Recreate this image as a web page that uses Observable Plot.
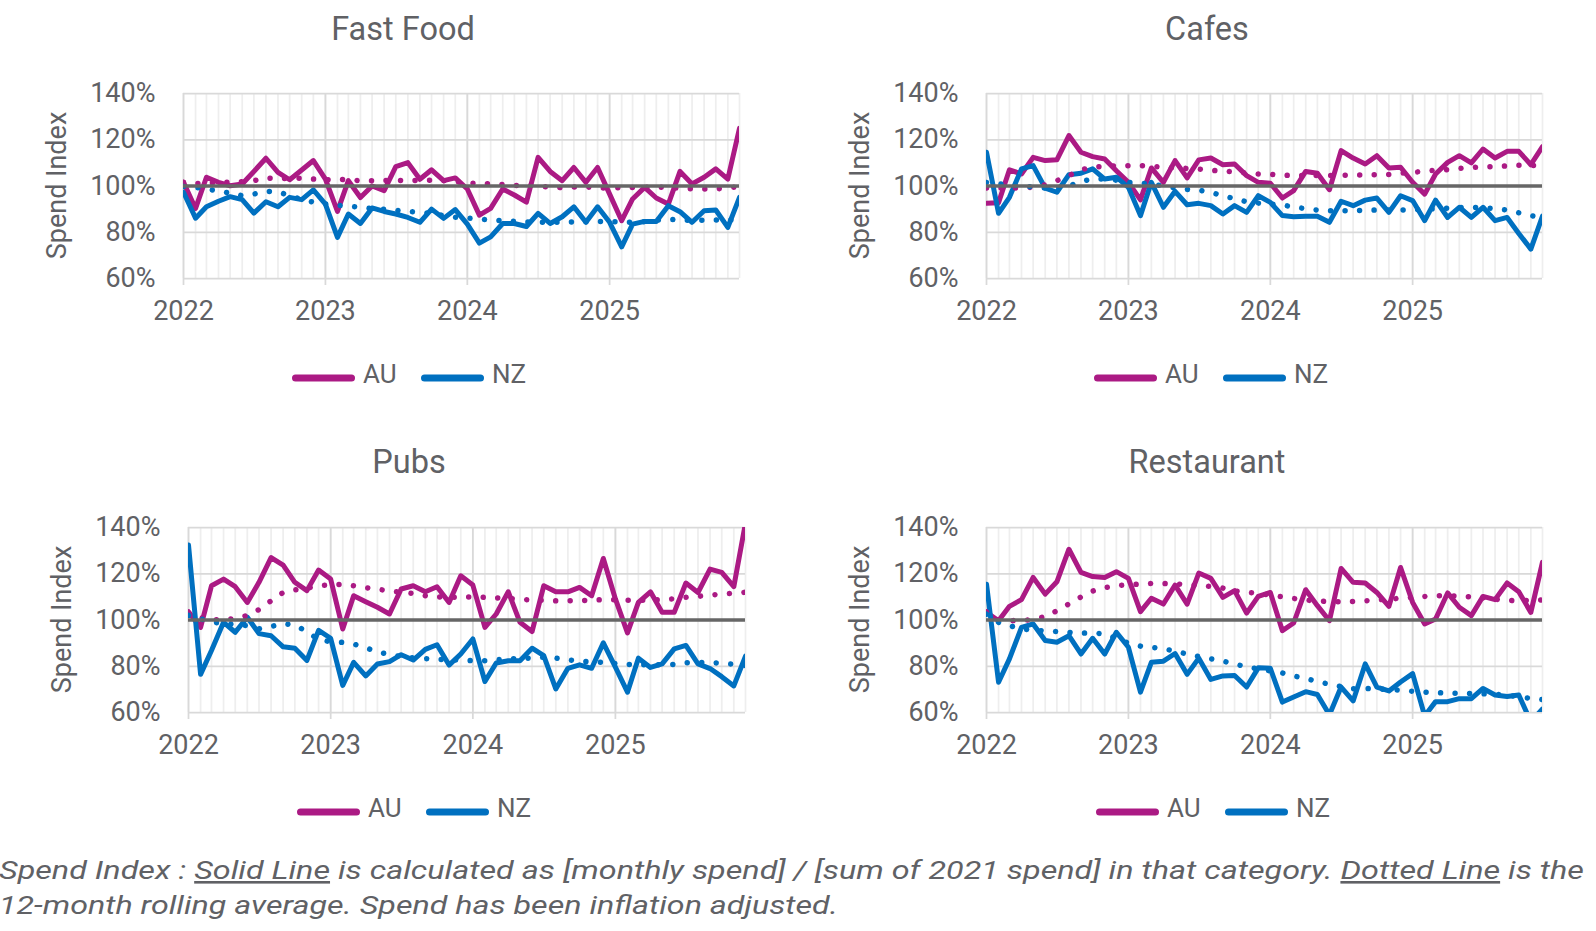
<!DOCTYPE html>
<html>
<head>
<meta charset="utf-8">
<script src="https://cdn.jsdelivr.net/npm/d3@7"></script>
<script src="https://cdn.jsdelivr.net/npm/@observablehq/plot@0.6"></script>
<style>
html, body { margin: 0; padding: 0; background: #ffffff; }
#chart { position: relative; width: 1596px; height: 931px; overflow: hidden; background: #ffffff; }
#chart .panel { position: absolute; }
</style>
</head>
<body>
<div id="chart"></div>
<script>
// ---------- data (monthly, Jan 2022 – Dec 2025) ----------
const seriesNames = ["AU", "NZ"];
const yearTicks = [2022, 2023, 2024, 2025];
const yTicks = [60, 80, 100, 120, 140];

const fastFoodAU = [101.6, 90.3, 103.8, 101.6, 100.1, 100.9, 106.3, 112, 105.9, 102.7, 106.9, 111,
  103, 89, 102.3, 95, 100, 98, 108.4, 110.1, 102.9, 107, 102.3, 103.5,
  98.7, 87.4, 90.3, 98.7, 96.1, 93, 112.4, 106.3, 102.3, 108, 101.6, 108,
  96.5, 85, 94.4, 99.4, 94.8, 92.2, 106.3, 100.9, 103.8, 107.4, 103, 125];
const fastFoodNZ = [97.3, 86.1, 91, 93.4, 95.4, 94.1, 88.3, 93.2, 91, 95.1, 94.1, 98.3,
  92.2, 77.8, 87.9, 83.8, 90.5, 89, 87.9, 86.4, 84.3, 90, 86, 89.8,
  83.5, 75.3, 78, 83.8, 83.8, 82.5, 88.2, 83.8, 86.7, 91, 84.3, 91,
  84.3, 73.7, 83.5, 84.7, 84.6, 91.5, 88.9, 84.3, 89.3, 89.6, 82.1, 95.1];
const fastFoodAUAvg = [101.6, 101, 101.2, 101.5, 101.6, 101.8, 102.3, 103.5, 103.2, 103.3, 103.3, 103,
  102.7, 102.9, 102.7, 102.3, 102.3, 102.4, 102.5, 102.3, 102.4, 102.5, 102.3, 101.8,
  101.4, 101, 100.9, 100.6, 100.2, 100.3, 100, 99.5, 99.3, 99.6, 99.6, 99.2,
  99.1, 99.3, 99.4, 99.4, 99.6, 99.3, 99, 98.8, 98.7, 98.7, 99.2, 99.7];
const fastFoodNZAvg = [99.8, 99.4, 98.7, 97.8, 96.9, 95.8, 96.5, 97.7, 97.5, 95.8, 94.2, 93,
  92.2, 91.6, 91.3, 90.8, 90.2, 89.9, 89.5, 89, 88.6, 88.2, 87.2, 86.5,
  86.1, 85.7, 85.3, 85, 84.7, 84.4, 84.3, 84.3, 84.3, 84.5, 84.6, 84.7,
  84.6, 84.5, 84.3, 84.6, 85.3, 85.6, 85.3, 85.2, 85.2, 85.3, 85.3, 85.3];

const cafesAU = [92.5, 92.8, 107, 105.2, 112.4, 111, 111.3, 121.8, 114.6, 112.7, 111.7, 106.6,
  101.6, 94, 107.8, 101.6, 111, 103.5, 111.3, 112.1, 109.2, 109.5, 104.5, 101.6,
  101.2, 94.8, 98, 106.3, 105.5, 98.4, 115.3, 112.1, 109.5, 113.1, 107.8, 108.1,
  101.6, 96.5, 105.2, 110.2, 113.1, 110, 116, 112.1, 115, 115, 109.2, 117];
const cafesNZ = [114.6, 88.2, 95.1, 107.4, 108.8, 99.1, 97.3, 104.9, 105.5, 107.4, 103, 103.8,
  99.4, 87.2, 101.6, 90.8, 97.7, 91.9, 92.5, 91.5, 87.9, 91.5, 88.6, 95.8,
  92.9, 87.2, 86.7, 86.9, 86.9, 84.3, 93.4, 91.5, 93.9, 94.8, 88.6, 95.8,
  93.7, 85, 93.9, 86.4, 90.8, 86.4, 90.8, 85, 86.4, 79.5, 72.7, 87];
const cafesAUAvg = [99.1, 99.1, 99.1, 99.1, 99.5, 100.5, 102.3, 104.5, 107, 108.2, 108.5, 108.7,
  108.8, 108.8, 108.6, 108.1, 107.8, 107.6, 107.3, 106.8, 106.5, 106.1, 105.6, 105.2,
  105, 104.7, 104.5, 104.5, 104.5, 104.5, 104.6, 104.8, 104.8, 104.9, 105, 105.5,
  105.9, 106.4, 106.8, 107.1, 107.6, 108, 108.3, 108.4, 108.7, 109, 108.9, 108.9];
const cafesNZAvg = [101.5, 101, 100.5, 100, 99.5, 99.1, 99.2, 100, 102, 103, 103, 102.5,
  101.6, 101.3, 100.8, 100, 99.2, 98.5, 98.2, 97.2, 95.8, 94.5, 93.2, 92.6,
  92.2, 91.8, 90.9, 90.2, 89.6, 89.3, 89.3, 89.3, 89.5, 89.6, 89.6, 89.6,
  89.8, 90, 90.2, 90.4, 90.7, 90.8, 90.6, 90.2, 89.6, 88.4, 87.2, 86.2];

const pubsAU = [103.6, 96.8, 114.8, 117.7, 114.4, 107.6, 116.3, 127, 123.7, 116.3, 112.7, 121.6,
  117.7, 96.1, 110.5, 107.9, 105.5, 102.6, 113.4, 114.8, 112.2, 114.4, 107.6, 119.1,
  115.1, 96.8, 102.6, 112.2, 99, 95, 114.8, 112.2, 112.2, 114.1, 110.5, 126.6,
  109.1, 94.4, 107.6, 112.2, 103.3, 103.3, 116, 111.9, 122, 120.6, 114.4, 142];
const pubsNZ = [132.4, 76.5, 86.8, 99, 94.7, 101.2, 94.1, 93.2, 88.4, 87.8, 82.5, 95.5,
  92.1, 71.7, 81.7, 75.8, 81, 82, 85, 82.7, 87.3, 89.3, 80.5, 85.3,
  91.8, 73.4, 81.4, 82.4, 82.4, 87.8, 84.6, 70.2, 79.1, 80.6, 79.1, 90.1,
  79.6, 68.8, 83.5, 79.5, 81, 87.5, 89, 81, 79, 75.5, 71.5, 84.4];
const pubsAUAvg = [103, 101, 100, 100.2, 100.5, 102, 104.5, 108.3, 111.9, 113, 113.8, 114.8,
  115.3, 115.4, 114.8, 114, 113.3, 112.6, 112, 111.5, 110.5, 110, 109.8, 110,
  110, 109.8, 109.6, 109.3, 109, 108.6, 108.5, 108.3, 108.3, 108.4, 108.6, 108.8,
  108.8, 108.5, 108.5, 108.6, 108.8, 109.2, 109.8, 110.2, 110.8, 111.2, 111.6, 112];
const pubsNZAvg = [102, 100.5, 99, 98.6, 98, 97.5, 96.2, 97.2, 98.4, 97.8, 95, 91.5,
  90.6, 90.3, 89.6, 88, 86.3, 85, 84.2, 83.6, 83.3, 83, 82.9, 82.6,
  82.4, 82.4, 82.8, 83.2, 83.3, 83.6, 83.9, 83.5, 82.8, 82.2, 81.9, 81.7,
  81.2, 80.8, 80.6, 80.6, 80.6, 80.8, 81.5, 81.7, 81.6, 81.3, 80.8, 80.3];

const restaurantAU = [103.3, 99.7, 105.9, 108.8, 118.4, 111.2, 116.5, 130.6, 120.6, 118.8, 118.4, 120.9,
  118, 103.6, 109.4, 106.9, 115.1, 106.9, 120.3, 118, 109.8, 112.7, 103, 110.2,
  111.9, 95.4, 98.7, 113.1, 106.2, 99.7, 122.3, 116.3, 116, 111.9, 105.9, 122.7,
  107.6, 98.3, 100.4, 111.7, 105.5, 101.9, 110.2, 108.8, 116, 112.2, 103.3, 125];
const restaurantNZ = [115.5, 73.1, 83.2, 96.8, 98.3, 91.1, 90.4, 93.2, 85.3, 92.1, 85.3, 94.7,
  88.2, 68.8, 81.7, 82.2, 85.5, 76.5, 83.5, 74.3, 75.8, 76, 71, 79.3,
  79.1, 64.5, 66.7, 69, 67.8, 59, 71, 65, 81, 71, 69.3, 73.2,
  76.8, 58.5, 64.7, 64.7, 66, 66, 70.4, 67.6, 66.9, 67.6, 56, 61.5];
const restaurantAUAvg = [103.5, 100, 99.7, 99.8, 100.2, 101.5, 104, 107, 110, 112.5, 114, 114.8,
  115.3, 115.5, 115.8, 115.8, 115.6, 115.3, 115, 114.5, 113.8, 112.6, 112, 111.5,
  110.8, 110, 109.3, 108.6, 108.2, 108, 107.9, 108, 108.3, 108.7, 109, 109.4,
  109.8, 110.2, 110.5, 110.5, 110.3, 110, 109.5, 109, 108.5, 108.3, 108.5, 108.7];
const restaurantNZAvg = [102.5, 99, 97.5, 96.2, 95.6, 95.3, 95, 94.6, 94.3, 94.4, 94, 92,
  90, 88.7, 88.2, 87.6, 86.5, 85.3, 84.2, 83.2, 82.2, 81, 79.7, 78.8,
  78, 77.1, 75.8, 74.7, 73.4, 72.2, 71.2, 70.3, 70.4, 70.2, 70, 69.6,
  69.2, 68.8, 68.6, 68.4, 68.3, 68.2, 68.1, 67.9, 67.5, 66.8, 66.1, 65.6];

const captionLine1 = [
  {text: "Spend Index : ", underline: false},
  {text: "Solid Line", underline: true},
  {text: " is calculated as [monthly spend] / [sum of 2021 spend] in that category. ", underline: false},
  {text: "Dotted Line", underline: true},
  {text: " is the", underline: false}
];
const captionLine2 = "12-month rolling average. Spend has been inflation adjusted.";

// ---------- style / layout ----------
const FONT = "Roboto, 'Noto Sans', 'DejaVu Sans', sans-serif";
const TEXT = "#606165";
const COLORS = {AU: "#AB1A84", NZ: "#0070C0"};

const panels = [
  {title: "Fast Food", data: [fastFoodAU, fastFoodNZ], avg: [fastFoodAUAvg, fastFoodNZAvg],
   x1: 183, x2: 739, y1: 93, y2: 278, titleX: 403, titleY: 40, legendX: 292, legendY: 378},
  {title: "Cafes", data: [cafesAU, cafesNZ], avg: [cafesAUAvg, cafesNZAvg],
   x1: 986, x2: 1542, y1: 93, y2: 278, titleX: 1207, titleY: 40, legendX: 1094, legendY: 378},
  {title: "Pubs", data: [pubsAU, pubsNZ], avg: [pubsAUAvg, pubsNZAvg],
   x1: 188, x2: 745, y1: 527, y2: 712, titleX: 409, titleY: 473, legendX: 297, legendY: 812},
  {title: "Restaurant", data: [restaurantAU, restaurantNZ], avg: [restaurantAUAvg, restaurantNZAvg],
   x1: 986, x2: 1542, y1: 527, y2: 712, titleX: 1207, titleY: 473, legendX: 1096, legendY: 812}
];

const months = d3.utcMonth.range(new Date(Date.UTC(2022, 0, 1)), new Date(Date.UTC(2026, 0, 1)));
const yearDates = yearTicks.map(y => new Date(Date.UTC(y, 0, 1)));
const toRows = values => values.map((v, i) => ({date: months[i], value: v}));

const chart = document.getElementById("chart");

for (const p of panels) {
  const mL = 150, mR = 30, mT = 25, mB = 55;
  const W = p.x2 - p.x1 + mL + mR;
  const H = p.y2 - p.y1 + mT + mB;
  const lineMarks = [];
  seriesNames.forEach((s, k) => {
    lineMarks.push(Plot.lineY(toRows(p.data[k]), {
      x: "date", y: "value", stroke: COLORS[s], strokeWidth: 5,
      strokeLinejoin: "round", strokeLinecap: "round", clip: true
    }));
  });
  seriesNames.forEach((s, k) => {
    lineMarks.push(Plot.lineY(toRows(p.avg[k]), {
      x: "date", y: "value", stroke: COLORS[s], strokeWidth: 5.5,
      strokeDasharray: "0.01 14.5", strokeLinecap: "round", strokeLinejoin: "round", clip: true
    }));
  });
  const svg = Plot.plot({
    width: W, height: H,
    marginLeft: mL, marginRight: mR, marginTop: mT, marginBottom: mB,
    style: {fontFamily: FONT, fontSize: "27px", color: TEXT, background: "transparent", overflow: "visible"},
    x: {type: "utc", domain: [months[0], months[months.length - 1]]},
    y: {type: "linear", domain: [60, 140]},
    marks: [
      Plot.gridX(months, {stroke: "#eeeeee", strokeOpacity: 1, strokeWidth: 1.75}),
      Plot.gridX(yearDates, {stroke: "#d9d9d9", strokeOpacity: 1, strokeWidth: 1.75}),
      Plot.gridY(yTicks, {stroke: "#d9d9d9", strokeOpacity: 1, strokeWidth: 1.75}),
      Plot.axisY(yTicks, {tickSize: 0, tickPadding: 28, tickFormat: d => d + "%", fill: TEXT, label: null}),
      Plot.axisX(yearDates, {tickSize: 7, tickPadding: 15, tickFormat: d => String(d.getUTCFullYear()),
        stroke: "#d9d9d9", strokeWidth: 1.75, fill: TEXT, label: null}),
      ...lineMarks,
      Plot.ruleY([100], {stroke: "#666666", strokeWidth: 3.3})
    ]
  });
  const wrap = document.createElement("div");
  wrap.className = "panel";
  wrap.style.left = (p.x1 - mL) + "px";
  wrap.style.top = (p.y1 - mT) + "px";
  wrap.appendChild(svg);
  chart.appendChild(wrap);
}

// ---------- titles, axis titles, legends, caption ----------
const overlay = d3.select(chart).append("svg")
  .attr("width", 1596).attr("height", 931)
  .style("position", "absolute").style("left", "0px").style("top", "0px")
  .style("pointer-events", "none")
  .attr("font-family", FONT);

for (const p of panels) {
  overlay.append("text")
    .attr("x", p.titleX).attr("y", p.titleY)
    .attr("text-anchor", "middle").attr("font-size", 32.5).attr("fill", TEXT)
    .text(p.title);
  overlay.append("text")
    .attr("transform", `translate(${p.x1 - 117.5},${(p.y1 + p.y2) / 2}) rotate(-90)`)
    .attr("text-anchor", "middle").attr("font-size", 27).attr("fill", TEXT)
    .text("Spend Index");
  seriesNames.forEach((s, k) => {
    const x0 = p.legendX + k * 129;
    overlay.append("line")
      .attr("x1", x0 + 3.5).attr("x2", x0 + 59.5)
      .attr("y1", p.legendY).attr("y2", p.legendY)
      .attr("stroke", COLORS[s]).attr("stroke-width", 7).attr("stroke-linecap", "round");
    overlay.append("text")
      .attr("x", x0 + 71).attr("y", p.legendY + 5)
      .attr("font-size", 26).attr("fill", TEXT)
      .text(s);
  });
}

const cap1 = overlay.append("text")
  .attr("x", -1).attr("y", 879)
  .attr("font-size", 26).attr("font-style", "italic").attr("fill", TEXT)
  .attr("textLength", 1585).attr("lengthAdjust", "spacingAndGlyphs");
for (const part of captionLine1) {
  const t = cap1.append("tspan").text(part.text);
  if (part.underline) t.attr("text-decoration", "underline").style("text-decoration", "underline");
}
overlay.append("text")
  .attr("x", -1).attr("y", 914)
  .attr("font-size", 26).attr("font-style", "italic").attr("fill", TEXT)
  .attr("textLength", 839).attr("lengthAdjust", "spacingAndGlyphs")
  .text(captionLine2);
</script>
</body>
</html>
